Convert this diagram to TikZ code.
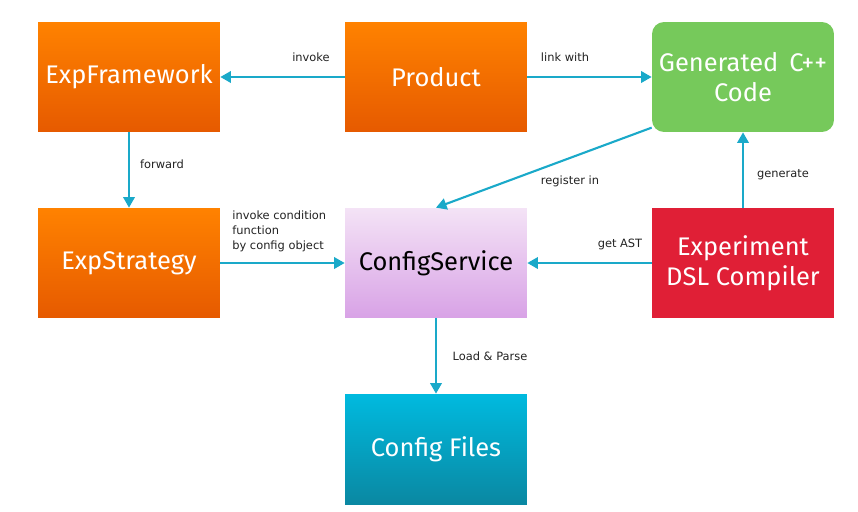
\documentclass[tikz,border=0pt]{standalone}
\usepackage{fontspec}
\setmainfont{DejaVu Sans}
\newfontfamily\boxfont{Fira Sans}
\usepackage{xcolor}
\usetikzlibrary{calc}
\usetikzlibrary{arrows.meta}
\definecolor{orangetop}{HTML}{FF8200}
\definecolor{orangebot}{HTML}{E65A00}
\definecolor{greenbox}{HTML}{76C95B}
\definecolor{redbox}{HTML}{E01F36}
\definecolor{purpletop}{HTML}{F4E3F6}
\definecolor{purplebot}{HTML}{D8A2E6}
\definecolor{cyantop}{HTML}{00BADF}
\definecolor{cyanbot}{HTML}{0A88A2}
\definecolor{arrowcyan}{HTML}{1AA9C9}
\definecolor{labelgray}{HTML}{222222}

\begin{document}
\begin{tikzpicture}[x=0.02cm, y=-0.02cm,
    block/.style={minimum width=3.64cm, minimum height=2.2cm, inner sep=0pt,
        align=center, text=white, font=\boxfont\fontsize{14.5}{17}\selectfont},
    orangeblock/.style={block, top color=orangetop, bottom color=orangebot},
    link/.style={line width=1.2pt, arrowcolor, -{Triangle[width=6.5pt,length=6pt]}},
    arrowcolor/.style={draw=arrowcyan, fill=arrowcyan},
    lbl/.style={font=\fontsize{6.5}{8.8}\selectfont, text=labelgray, inner sep=0pt}]
        %AREA
        \useasboundingbox (0,0) rectangle (858,511);
        %BOXES
        \node[orangeblock] (frame) at (129,77) {ExpFramework};
        \node[orangeblock] (product) at (436,77) {Product};
        \node[block, fill=greenbox, rounded corners=0.24cm] (gen) at (743,77) {Generated\, C++\\Code};
        \node[orangeblock] (strategy) at (129,263) {ExpStrategy};
        \node[block, top color=purpletop, bottom color=purplebot, text=black] (cfg) at (436,263) {ConfigService};
        \node[block, fill=redbox] (dsl) at (743,263) {Experiment\\DSL Compiler};
        \node[block, top color=cyantop, bottom color=cyanbot] (files) at (436,449) {Config Files};
        %ARROWS
        \draw[link] (product) -- (frame);
        \draw[link] (product) -- (gen);
        \draw[link] (frame) -- (strategy);
        \draw[link] (strategy) -- (cfg);
        \draw[link] (dsl) -- (cfg);
        \draw[link] (dsl) -- (gen);
        \draw[link] (gen.209) -- (cfg.north);
        \draw[link] (cfg) -- (files);
        %LABELS
        \node[lbl] (linvoke) at (311,57) {invoke};
        \node[lbl] (llink) at (565,57) {link with};
        \node[lbl] (lforward) at (162,164) {forward};
        \node[lbl, anchor=north west, align=left] (lcond) at (232,210) {invoke condition\\function\\by config object};
        \node[lbl] (lregister) at (570,181) {register in};
        \node[lbl] (last) at (620,244) {get AST};
        \node[lbl] (lgenerate) at (783,175) {generate};
        \node[lbl] (lload) at (490,356) {Load \& Parse};
    \end{tikzpicture}
\end{document}
